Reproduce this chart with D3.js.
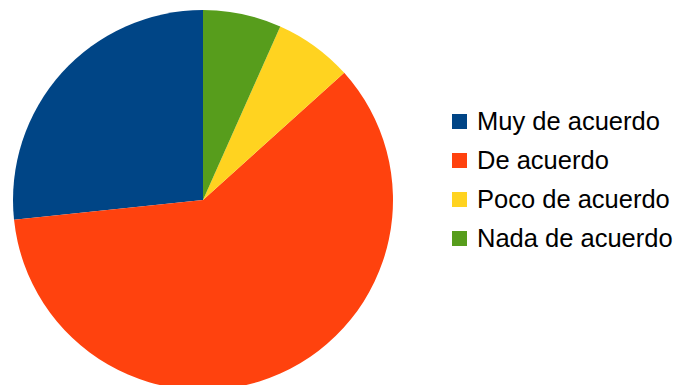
<!DOCTYPE html>
<html>
<head>
<meta charset="utf-8">
<script src="https://cdn.jsdelivr.net/npm/d3@7"></script>
<style>
  html, body { margin: 0; padding: 0; background: #fff; }
  svg { display: block; }
</style>
</head>
<body>
<svg id="chart" width="674" height="385"></svg>
<script>
// Survey responses
const categories = ["Muy de acuerdo", "De acuerdo", "Poco de acuerdo", "Nada de acuerdo"];
const values = [16, 36, 4, 4];
const colors = ["#004586", "#ff420e", "#ffd320", "#579d1c"];

const svg = d3.select("#chart");
const cx = 203, cy = 200, radius = 190;

const data = categories.map((c, i) => ({ category: c, value: values[i] }));

const color = d3.scaleOrdinal().domain(categories).range(colors);

// Slices run counter-clockwise starting at 12 o'clock
const pie = d3.pie()
  .value(d => d.value)
  .sort(null)
  .startAngle(0)
  .endAngle(-2 * Math.PI);

const arc = d3.arc().innerRadius(0).outerRadius(radius);

svg.append("g")
  .attr("transform", `translate(${cx},${cy})`)
  .selectAll("path")
  .data(pie(data))
  .join("path")
  .attr("d", arc)
  .attr("fill", d => color(d.data.category));

// Legend
const legend = svg.append("g").attr("transform", "translate(452,114)");
const rowH = 39;
const rows = legend.selectAll("g")
  .data(categories)
  .join("g")
  .attr("transform", (d, i) => `translate(0,${i * rowH})`);

rows.append("rect")
  .attr("width", 15)
  .attr("height", 15)
  .attr("fill", d => color(d));

rows.append("text")
  .attr("x", 25)
  .attr("y", 16)
  .attr("font-family", "Liberation Sans, Arial, sans-serif")
  .attr("font-size", 25.5)
  .attr("fill", "#000")
  .text(d => d);
</script>
</body>
</html>
